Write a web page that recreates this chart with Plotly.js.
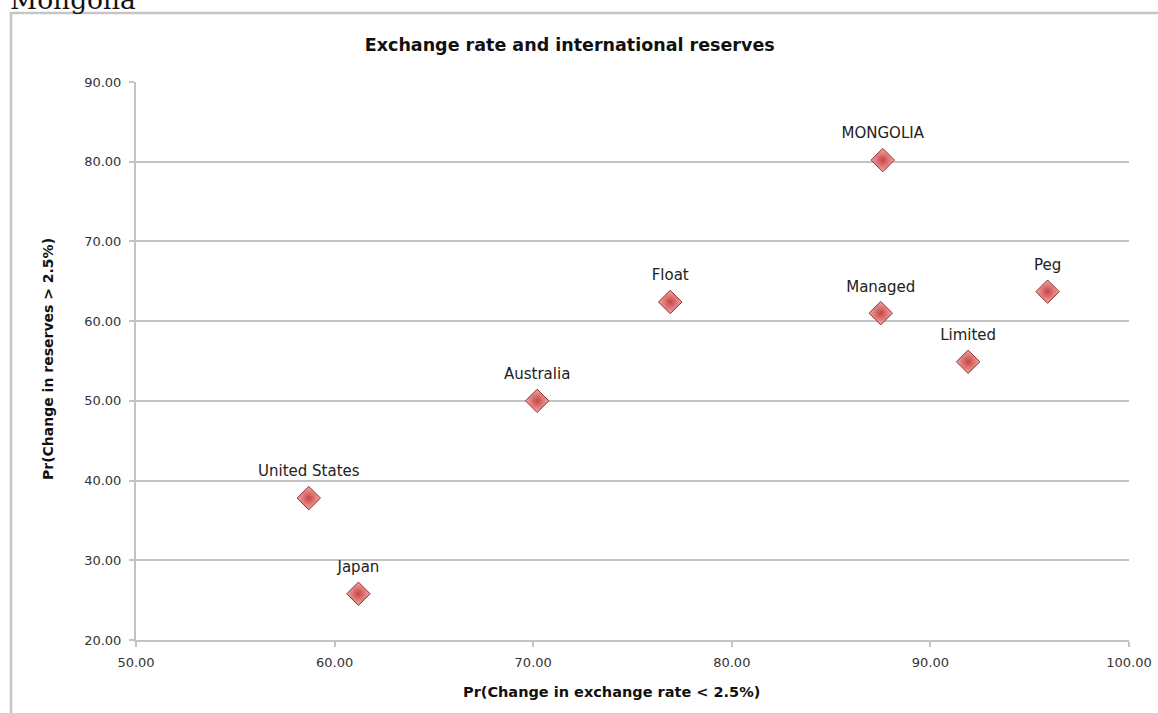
<!DOCTYPE html>
<html>
<head>
<meta charset="utf-8">
<script src="https://cdn.plot.ly/plotly-3.0.1.min.js"></script>
<style>
  html, body { margin: 0; padding: 0; background: #ffffff; overflow: hidden; }
  #wrap { position: relative; width: 1158px; height: 713px; }
  #chart { position: absolute; left: 0; top: 0; width: 1158px; height: 713px; }
  #heading { position: absolute; left: 0; top: 0; width: 400px; height: 40px; pointer-events: none; }
</style>
</head>
<body>
<div id="wrap">
  <div id="chart"></div>
  <svg id="heading" xmlns="http://www.w3.org/2000/svg" width="400" height="40">
    <text x="10" y="9" font-family="DejaVu Serif" font-size="26.5" fill="#111">Mongolia</text>
  </svg>
</div>
<script>
// ---- data ----
const countries = ["United States", "Japan", "Australia", "Float", "MONGOLIA", "Managed", "Limited", "Peg"];
const exchangeRateProb = [58.7, 61.2, 70.2, 76.9, 87.6, 87.5, 91.9, 95.9];
const reservesProb     = [37.8, 25.8, 50.0, 62.4, 80.2, 61.0, 54.9, 63.7];
const xTickValues = [50, 60, 70, 80, 90, 100];
const yTickValues = [20, 30, 40, 50, 60, 70, 80, 90];

const chartTitle = "Exchange rate and international reserves";
const xTitle = "Pr(Change in exchange rate < 2.5%)";
const yTitle = "Pr(Change in reserves > 2.5%)";

const grey = "#c3c3c3";
const font = "DejaVu Sans";

// visible diamonds
const markerTrace = {
  type: "scatter",
  mode: "markers",
  x: exchangeRateProb,
  y: reservesProb,
  text: countries,
  cliponaxis: false,
  marker: {
    symbol: "diamond",
    size: 18,
    color: "#f4a8a6",
    gradient: { type: "radial", color: "#c44542" },
    line: { color: "#8e2f2c", width: 1 }
  },
  hoverinfo: "x+y+text"
};

// labels above the diamonds (invisible larger marker sets the text offset)
const labelTrace = {
  type: "scatter",
  mode: "markers+text",
  x: exchangeRateProb,
  y: reservesProb,
  text: countries,
  textposition: "top center",
  textfont: { family: font, size: 15, color: "#222" },
  cliponaxis: false,
  marker: { size: 27, opacity: 0, color: "#ffffff" },
  hoverinfo: "skip"
};

const layout = {
  width: 1158,
  height: 713,
  margin: { l: 136, r: 29, t: 82, b: 73, pad: 0 },
  paper_bgcolor: "#ffffff",
  plot_bgcolor: "#ffffff",
  showlegend: false,
  font: { family: font, color: "#333" },
  title: {
    text: chartTitle,
    font: { family: font, size: 17.5, color: "#111", weight: "bold" },
    xref: "container", yref: "container",
    x: 0.492, y: 1 - 45 / 713,
    xanchor: "center", yanchor: "middle"
  },
  xaxis: {
    range: [50, 100],
    tickvals: xTickValues,
    tickformat: ".2f",
    showgrid: false,
    zeroline: false,
    showline: true,
    linecolor: grey,
    linewidth: 2,
    ticks: "outside",
    ticklen: 5,
    tickwidth: 2,
    tickcolor: grey,
    ticklabelstandoff: 4,
    tickfont: { family: font, size: 13, color: "#333" },
    fixedrange: true
  },
  yaxis: {
    range: [20, 90],
    tickvals: yTickValues,
    tickformat: ".2f",
    showgrid: true,
    gridcolor: grey,
    gridwidth: 2,
    zeroline: false,
    showline: true,
    linecolor: grey,
    linewidth: 2,
    ticks: "outside",
    ticklen: 5,
    tickwidth: 2,
    tickcolor: grey,
    ticklabelstandoff: 5,
    tickfont: { family: font, size: 13, color: "#333" },
    fixedrange: true
  },
  annotations: [
    {
      text: xTitle,
      xref: "paper", yref: "paper",
      x: (611 - 136) / 993, y: -(692 - 640) / 558,
      xanchor: "center", yanchor: "middle",
      showarrow: false,
      font: { family: font, size: 14.5, color: "#111", weight: "bold" }
    },
    {
      text: yTitle,
      xref: "paper", yref: "paper",
      x: -(136 - 48) / 993, y: (640 - 359) / 558,
      xanchor: "center", yanchor: "middle",
      textangle: -90,
      showarrow: false,
      font: { family: font, size: 14, color: "#111", weight: "bold" }
    }
  ],
  shapes: [
    {
      type: "rect",
      xref: "paper", yref: "paper",
      x0: -(136 - 11) / 993, x1: 1.2,
      y0: -0.3, y1: 1 + (82 - 13) / 558,
      line: { color: "#c6c6c6", width: 2.5 },
      fillcolor: "rgba(0,0,0,0)",
      layer: "below"
    }
  ]
};

Plotly.newPlot("chart", [markerTrace, labelTrace], layout, { displayModeBar: false, staticPlot: true });
</script>
</body>
</html>
